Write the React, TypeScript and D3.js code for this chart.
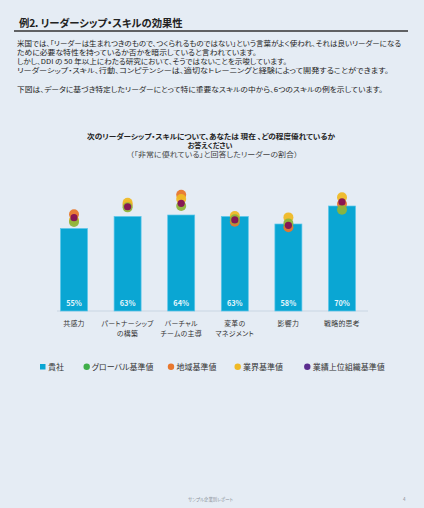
import React from "react";
import * as d3 from "d3";

const categories = ["共感力", "パートナーシップ\nの構築", "バーチャル\nチームの主導", "変革の\nマネジメント", "影響力", "戦略的思考"];
const companyValues = [55, 63, 64, 63, 58, 70];
const globalValues = [59.3, 69.1, 70, 61.1, 58.4, 67.5];
const regionValues = [64.5, 70.7, 77.5, 59.5, 55.8, 71.3];
const industryValues = [60.7, 72.2, 74.7, 63.3, 62.4, 75.8];
const topOrgValues = [62.2, 69.5, 71.8, 60.7, 57.1, 72.7];

const legendLabels = ["貴社", "グローバル基準値", "地域基準値", "業界基準値", "業績上位組織基準値"];

const paragraphLines = [
  "米国では、「リーダーは生まれつきのもので、つくられるものではない」という言葉がよく使われ、それは良いリーダーになる",
  "ために必要な特性を持っているか否かを暗示していると言われています。",
  "しかし、DDI の 50 年以上にわたる研究において、そうではないことを示唆しています。",
  "リーダーシップ・スキル、行動、コンピテンシーは、適切なトレーニングと経験によって開発することができます。",
  "",
  "下図は、データに基づき特定したリーダーにとって特に重要なスキルの中から、6つのスキルの例を示しています。",
];
const paragraphEnds = [401, 256.7, 287, 388.7, 0, 382.7];

const FONT = "'Noto Sans CJK JP', 'Noto Sans', sans-serif";
const BG = "#e5ecf4";
const BAR = "#0aa6d3";
const GREEN = "#8fb43a";
const ORANGE = "#e8772c";
const YELLOW = "#efb925";
const PURPLE = "#850f55";

export default function App() {
  const W = 424, H = 508;
  const y = d3.scaleLinear().domain([0, 100]).range([311, 161]);
  const x = d3.scalePoint<string>().domain(categories).range([74, 342]);
  const bw = 27;
  const palt = { fontFeatureSettings: '"palt"' } as React.CSSProperties;

  const dotSeries = [
    { vals: regionValues, color: ORANGE, r: 5 },
    { vals: industryValues, color: YELLOW, r: 5 },
    { vals: globalValues, color: GREEN, r: 5 },
    { vals: topOrgValues, color: PURPLE, r: 3.6 },
  ];

  const legendItems = [
    { label: legendLabels[0], color: BAR, x: 40, type: "sq", tx: 48 },
    { label: legendLabels[1], color: "#3fae49", x: 86.7, type: "c", tx: 91.7 },
    { label: legendLabels[2], color: ORANGE, x: 171, type: "c", tx: 176.5 },
    { label: legendLabels[3], color: YELLOW, x: 237.7, type: "c", tx: 243 },
    { label: legendLabels[4], color: "#5b2d8e", x: 307.3, type: "c", tx: 312.7 },
  ];

  const paraY = [44, 52.9, 61.8, 70.7, 0, 90];

  return (
    <svg width={W} height={H} style={{ position: "absolute", left: 0, top: 0, fontFamily: FONT, ...palt }}>
      <rect x={0} y={0} width={W} height={H} fill={BG} />
      <text x={19} y={27.3} fontSize={10.5} fontWeight="bold" fill="#222"
        textLength={163.7} lengthAdjust="spacingAndGlyphs">例2．リーダーシップ・スキルの効果性</text>
      <line x1={14} x2={408} y1={31} y2={31} stroke="#333" strokeWidth={1.4} />
      {paragraphLines.map((t, i) =>
        t ? (
          <text key={i} x={17} y={paraY[i] + 2.3} fontSize={6.3} fill="#222"
            textLength={paragraphEnds[i] - 17} lengthAdjust="spacingAndGlyphs">{t}</text>
        ) : null
      )}
      <text x={211} y={139.2} textAnchor="middle" fontSize={7} fontWeight="bold" fill="#222"
        textLength={248} lengthAdjust="spacingAndGlyphs">次のリーダーシップ・スキルについて、あなたは 現在 、どの程度優れているか</text>
      <text x={210} y={148.2} textAnchor="middle" fontSize={7} fontWeight="bold" fill="#222">お答えください</text>
      <text x={214} y={156.8} textAnchor="middle" fontSize={7} fill="#444"
        textLength={168} lengthAdjust="spacingAndGlyphs">（「非常に優れている」と回答したリーダーの割合）</text>

      <line x1={57} x2={368} y1={311} y2={311} stroke="#c3d2e0" strokeWidth={0.8} />
      {categories.map((c, i) => {
        const cx = x(c)!;
        return (
          <g key={c}>
            <rect x={cx - bw / 2} y={y(companyValues[i])} width={bw} height={y(0) - y(companyValues[i])}
              fill={BAR} stroke="#5cc6ea" strokeWidth={0.7} />
            <text x={cx} y={305.5} textAnchor="middle" fontSize={7.3} fill="#e8f6fc" fontWeight="bold">{companyValues[i]}%</text>
            {c.split("\n").map((ln, j) => (
              <text key={j} x={cx} y={326.4 + j * 9.5} textAnchor="middle" fontSize={6.9} fill="#333"
                letterSpacing={0.3}>{ln}</text>
            ))}
          </g>
        );
      })}
      {dotSeries.map((s, k) => (
        <g key={k}>
          {categories.map((c, i) => (
            <circle key={c} cx={x(c)!} cy={y(s.vals[i])} r={s.r} fill={s.color} fillOpacity={0.95} />
          ))}
        </g>
      ))}

      {legendItems.map((it) => (
        <g key={it.label}>
          {it.type === "sq" ? (
            <rect x={it.x} y={364} width={5.5} height={5.5} fill={it.color} />
          ) : (
            <circle cx={it.x} cy={366.8} r={3.2} fill={it.color} />
          )}
          <text x={it.tx} y={369.7} fontSize={8} fill="#333">{it.label}</text>
        </g>
      ))}

      <text x={188} y={500.5} fontSize={4.6} fill="#8a8f96" textLength={45} lengthAdjust="spacingAndGlyphs">サンプル企業別レポート</text>
      <text x={403} y={500.5} fontSize={4.6} fill="#8a8f96">4</text>
    </svg>
  );
}
